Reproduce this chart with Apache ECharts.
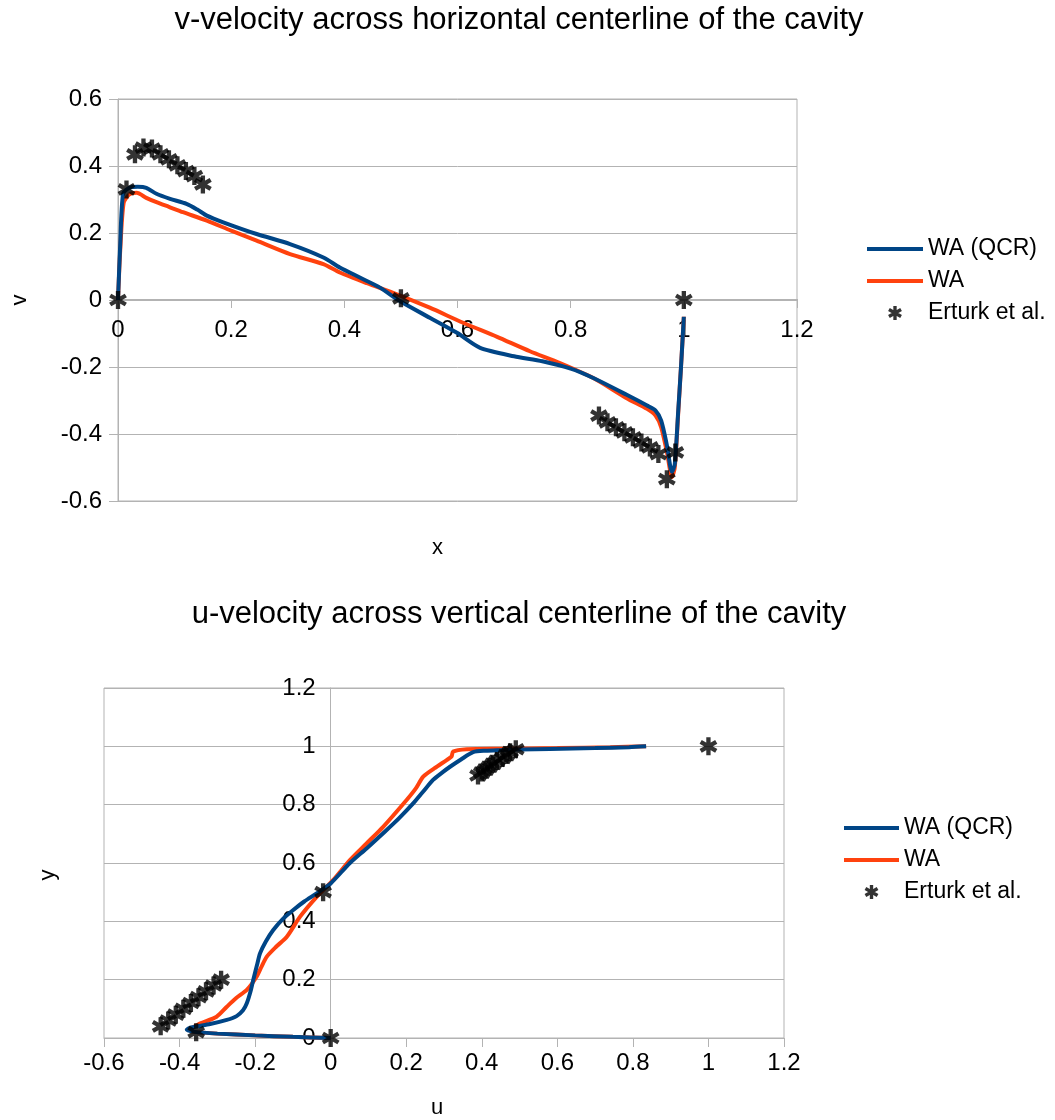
<!DOCTYPE html>
<html>
<head>
<meta charset="utf-8">
<title>Cavity centerline velocity profiles</title>
<script src="https://cdn.jsdelivr.net/npm/echarts@6/dist/echarts.min.js"></script>
<style>
  html, body { margin: 0; padding: 0; background: #fff; }
  #chart { width: 1055px; height: 1120px; }
</style>
</head>
<body>
<div id="chart"></div>
<script>
// ---- v-velocity along the horizontal centerline (x, v) ----
const vQcrX = [0, 0.004, 0.009, 0.02, 0.035, 0.05, 0.068, 0.092, 0.121, 0.14, 0.157, 0.186, 0.245, 0.304, 0.363, 0.392, 0.43, 0.463, 0.498, 0.551, 0.599, 0.64, 0.7, 0.75, 0.8, 0.84, 0.899, 0.935, 0.95, 0.96, 0.97, 0.979, 0.984, 0.99, 0.995, 1.0];
const vQcrV = [0, 0.17, 0.317, 0.335, 0.338, 0.335, 0.317, 0.302, 0.287, 0.27, 0.252, 0.232, 0.197, 0.167, 0.127, 0.097, 0.065, 0.037, -0.003, -0.053, -0.098, -0.143, -0.168, -0.183, -0.205, -0.233, -0.283, -0.315, -0.33, -0.36, -0.433, -0.513, -0.49, -0.333, -0.2, -0.05];

const vWaX = [0, 0.004, 0.01, 0.02, 0.033, 0.05, 0.068, 0.09, 0.115, 0.157, 0.2, 0.245, 0.304, 0.363, 0.392, 0.44, 0.493, 0.551, 0.61, 0.67, 0.728, 0.781, 0.84, 0.899, 0.935, 0.95, 0.96, 0.97, 0.979, 0.984, 0.99, 0.995, 1.0];
const vWaV = [0, 0.15, 0.29, 0.315, 0.32, 0.305, 0.292, 0.278, 0.262, 0.237, 0.207, 0.177, 0.137, 0.107, 0.082, 0.05, 0.017, -0.023, -0.068, -0.11, -0.153, -0.188, -0.233, -0.293, -0.325, -0.345, -0.38, -0.453, -0.528, -0.5, -0.34, -0.2, -0.05];

const vErturkX = [0, 0.015, 0.03, 0.045, 0.06, 0.075, 0.09, 0.105, 0.12, 0.135, 0.15, 0.5, 0.85, 0.865, 0.88, 0.895, 0.91, 0.925, 0.94, 0.955, 0.97, 0.985, 1.0];
const vErturkV = [0, 0.33, 0.435, 0.455, 0.452, 0.435, 0.42, 0.402, 0.385, 0.37, 0.345, 0.005, -0.345, -0.365, -0.38, -0.395, -0.41, -0.425, -0.44, -0.46, -0.535, -0.455, 0];

// ---- u-velocity along the vertical centerline (u, y) ----
const uQcrU = [0, -0.1, -0.2, -0.3, -0.36, -0.381, -0.37, -0.319, -0.275, -0.249, -0.232, -0.222, -0.212, -0.205, -0.195, -0.187, -0.172, -0.152, -0.125, -0.099, -0.07, -0.037, 0.0, 0.051, 0.095, 0.139, 0.18, 0.219, 0.245, 0.271, 0.295, 0.316, 0.345, 0.377, 0.41, 0.448, 0.5, 0.58, 0.7, 0.79, 0.835];
const uQcrY = [0, 0.004, 0.009, 0.015, 0.021, 0.028, 0.036, 0.048, 0.062, 0.075, 0.095, 0.119, 0.16, 0.199, 0.25, 0.29, 0.33, 0.37, 0.41, 0.439, 0.468, 0.496, 0.53, 0.6, 0.65, 0.702, 0.752, 0.805, 0.845, 0.885, 0.91, 0.93, 0.955, 0.98, 0.985, 0.987, 0.989, 0.991, 0.994, 0.997, 1.0];

const uWaU = [0, -0.1, -0.2, -0.3, -0.36, -0.375, -0.365, -0.345, -0.302, -0.275, -0.25, -0.222, -0.196, -0.183, -0.169, -0.145, -0.116, -0.081, -0.037, 0.007, 0.051, 0.095, 0.139, 0.201, 0.225, 0.245, 0.275, 0.307, 0.32, 0.324, 0.36, 0.45, 0.6, 0.74, 0.835];
const uWaY = [0, 0.004, 0.009, 0.015, 0.021, 0.028, 0.036, 0.05, 0.073, 0.107, 0.137, 0.165, 0.21, 0.245, 0.279, 0.312, 0.347, 0.416, 0.484, 0.542, 0.61, 0.667, 0.724, 0.816, 0.855, 0.896, 0.925, 0.953, 0.965, 0.982, 0.99, 0.992, 0.994, 0.997, 1.0];

const uErturkU = [0, -0.356, -0.45, -0.43, -0.41, -0.39, -0.37, -0.35, -0.33, -0.31, -0.29, -0.02, 0.39, 0.40, 0.41, 0.42, 0.43, 0.44, 0.455, 0.465, 0.475, 0.49, 1.0];
const uErturkY = [0, 0.02, 0.04, 0.06, 0.08, 0.1, 0.12, 0.14, 0.16, 0.18, 0.2, 0.5, 0.9, 0.91, 0.92, 0.93, 0.94, 0.95, 0.96, 0.97, 0.98, 0.99, 1.0];

const seriesNames = ['WA (QCR)', 'WA', 'Erturk et al.'];
const titles = ['v-velocity across horizontal centerline of the cavity', 'u-velocity across vertical centerline of the cavity'];

const BLUE = '#004586';
const ORANGE = '#ff420e';
const GRID_GRAY = '#b3b3b3';
const FONT = 'Liberation Sans, Arial, sans-serif';

// six-armed asterisk marker
const ASTERISK = 'path://M-2.4,-10L2.4,-10L2.4,10L-2.4,10Z' +
  'M-9.86,-2.92L-7.46,-7.08L9.86,2.92L7.46,7.08Z' +
  'M-7.46,7.08L-9.86,2.92L7.46,-7.08L9.86,-2.92Z';

const zip = (a, b) => a.map((v, i) => [v, b[i]]);
const fmt = v => String(Math.round(v * 10) / 10);

function valueAxis(gridIndex, min, max, extra) {
  return Object.assign({
    type: 'value',
    gridIndex: gridIndex,
    min: min,
    max: max,
    interval: 0.2,
    axisLine: { show: true, onZero: false, lineStyle: { color: GRID_GRAY, width: 1 } },
    axisTick: { show: true, length: 9, lineStyle: { color: GRID_GRAY } },
    splitLine: { show: false },
    nameLocation: 'middle'
  }, extra);
}

function labelStyle(margin) {
  return { color: '#000', fontFamily: FONT, fontSize: 24, margin: margin, formatter: fmt };
}

function nameStyle(padding) {
  return { color: '#000', fontFamily: FONT, fontSize: 22, padding: padding };
}

function lineSeries(name, data, color, xi, z) {
  return {
    name: name, type: 'line', xAxisIndex: xi, yAxisIndex: xi,
    data: data, symbol: 'none', smooth: 0.25, z: z,
    lineStyle: { color: color, width: 4 }, itemStyle: { color: color }
  };
}

function starSeries(data, xi) {
  return {
    name: seriesNames[2], type: 'scatter', xAxisIndex: xi, yAxisIndex: xi,
    data: data, symbol: ASTERISK, symbolSize: 18, symbolKeepAspect: true, z: 5,
    itemStyle: { color: '#000' }
  };
}

function legend(top, left, itemWidth) {
  return {
    orient: 'vertical', top: top, left: left, padding: 0,
    itemWidth: itemWidth, itemHeight: 14, itemGap: 8,
    textStyle: { color: '#000', fontFamily: FONT, fontSize: 23, lineHeight: 24 },
    lineStyle: { width: 4 },
    data: [
      { name: seriesNames[0], itemStyle: { opacity: 0 } },
      { name: seriesNames[1], itemStyle: { opacity: 0 } },
      { name: seriesNames[2] }
    ]
  };
}

const chart = echarts.init(document.getElementById('chart'), null, { renderer: 'canvas' });

chart.setOption({
  animation: false,
  backgroundColor: '#fff',
  title: [
    { text: titles[0], left: 519, top: 5, padding: 0, textAlign: 'center',
      textStyle: { color: '#000', fontFamily: FONT, fontSize: 31, fontWeight: 'normal' } },
    { text: titles[1], left: 519, top: 599, padding: 0, textAlign: 'center',
      textStyle: { color: '#000', fontFamily: FONT, fontSize: 31, fontWeight: 'normal' } }
  ],
  legend: [legend(237, 865, 56), legend(816, 842, 55)],
  grid: [
    { left: 118, top: 99, width: 679, height: 402, show: true, borderColor: GRID_GRAY, borderWidth: 1,
      containLabel: false, outerBoundsMode: 'none' },
    { left: 104, top: 688, width: 680, height: 350, show: true, borderColor: GRID_GRAY, borderWidth: 1,
      containLabel: false, outerBoundsMode: 'none' }
  ],
  xAxis: [
    // x axis drawn along v = 0 (202 px above the plot bottom)
    valueAxis(0, 0, 1.2, { name: 'x', nameGap: 238, offset: -202,
      nameTextStyle: nameStyle([0, 40, 0, 0]), axisLabel: labelStyle(19) }),
    valueAxis(1, -0.6, 1.2, { name: 'u', nameGap: 59,
      nameTextStyle: nameStyle([0, 14, 0, 0]), axisLabel: labelStyle(13) })
  ],
  yAxis: [
    valueAxis(0, -0.6, 0.6, { name: 'v', nameGap: 87,
      nameTextStyle: nameStyle([0, 0, 0, 0]),
      splitLine: { show: true, lineStyle: { color: GRID_GRAY, width: 1 } },
      axisLabel: labelStyle(16) }),
    // y axis drawn along u = 0 (three 0.2-steps right of the plot's left edge)
    valueAxis(1, 0, 1.2, { name: 'y', nameGap: 272, offset: -226.7,
      nameTextStyle: nameStyle([0, 24, 0, 0]),
      splitLine: { show: true, lineStyle: { color: GRID_GRAY, width: 1 } },
      axisLabel: labelStyle(15) })
  ],
  series: [
    lineSeries(seriesNames[1], zip(vWaX, vWaV), ORANGE, 0, 2),
    lineSeries(seriesNames[0], zip(vQcrX, vQcrV), BLUE, 0, 3),
    starSeries(zip(vErturkX, vErturkV), 0),
    lineSeries(seriesNames[1], zip(uWaU, uWaY), ORANGE, 1, 2),
    lineSeries(seriesNames[0], zip(uQcrU, uQcrY), BLUE, 1, 3),
    starSeries(zip(uErturkU, uErturkY), 1)
  ]
});
</script>
</body>
</html>
